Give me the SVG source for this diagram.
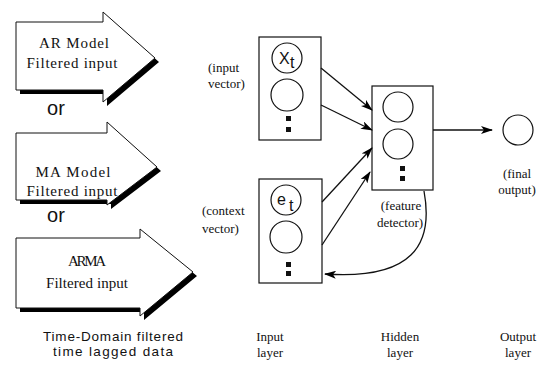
<svg xmlns="http://www.w3.org/2000/svg" width="551" height="374" viewBox="0 0 551 374">
  <defs>
    <marker id="head" viewBox="0 0 12 8" refX="11" refY="4" markerWidth="12" markerHeight="8" markerUnits="userSpaceOnUse" orient="auto">
      <path d="M0,0 L12,4 L0,8 L3,4 Z" fill="#000"/>
    </marker>
  </defs>
  <style>
    .bg { fill: #fff; }
    .arrow { fill: #fff; stroke: #111; stroke-width: 1; }
    .shadow { fill: #000; }
    .box { fill: #fff; stroke: #111; stroke-width: 1.2; }
    .unit { fill: #fff; stroke: #111; stroke-width: 1.2; }
    .dot { fill: #111; }
    .link { fill: none; stroke: #111; stroke-width: 1.3; marker-end: url(#head); }
    .inlabel { font-family: "Liberation Serif", serif; font-size: 15px; fill: #111; text-anchor: middle; }
    .or { font-family: "Liberation Sans", sans-serif; font-size: 20px; fill: #111; text-anchor: middle; }
    .cap { font-family: "Liberation Sans", sans-serif; font-size: 13.5px; fill: #111; text-anchor: middle; }
    .lbl { font-family: "Liberation Serif", serif; font-size: 13px; fill: #111; }
    .mid { text-anchor: middle; }
    .sym { font-family: "Liberation Sans", sans-serif; font-size: 16px; fill: #111; }
  </style>
  <rect class="bg" width="551" height="374"/>

  <!-- filtered input arrows -->
  <g id="ar-arrow">
    <path class="shadow" d="M20,26 H107 V16 L159,62 L107,106 V94 H20 Z"/>
    <path class="arrow" d="M16,22 H103 V12 L155,58 L103,102 V90 H16 Z"/>
    <text class="inlabel" x="74" y="48" textLength="70" lengthAdjust="spacing">AR Model</text>
    <text class="inlabel" x="72" y="68" textLength="91" lengthAdjust="spacing">Filtered input</text>
  </g>
  <text class="or" x="56" y="115">or</text>
  <g id="ma-arrow">
    <path class="shadow" d="M20,137 H111 V126 L161,171 L111,209 V204 H20 Z"/>
    <path class="arrow" d="M16,133 H107 V122 L157,167 L107,205 V200 H16 Z"/>
    <text class="inlabel" x="73" y="177" textLength="75" lengthAdjust="spacing">MA Model</text>
    <text class="inlabel" x="72" y="196" textLength="91" lengthAdjust="spacing">Filtered input</text>
  </g>
  <text class="or" x="56" y="222">or</text>
  <g id="arma-arrow">
    <path class="shadow" d="M20,242 H144 V233 L197,276 L144,320 V312 H20 Z"/>
    <path class="arrow" d="M16,238 H140 V229 L193,272 L140,316 V308 H16 Z"/>
    <text class="inlabel" x="87" y="266" textLength="38" lengthAdjust="spacing">ARMA</text>
    <text class="inlabel" x="87" y="288" textLength="82" lengthAdjust="spacing">Filtered input</text>
  </g>
  <text class="cap" x="113" y="341" textLength="140" lengthAdjust="spacing">Time-Domain filtered</text>
  <text class="cap" x="113" y="356" textLength="120" lengthAdjust="spacing">time lagged data</text>

  <!-- input layer -->
  <g id="input-vector">
    <rect class="box" x="259" y="37" width="62" height="103"/>
    <circle class="unit" cx="287" cy="58" r="15"/>
    <text class="sym" x="279" y="64">X</text>
    <text class="sym" x="290" y="68" font-size="10">t</text>
    <circle class="unit" cx="287" cy="95" r="16"/>
    <rect class="dot" x="286" y="116" width="5" height="5"/>
    <rect class="dot" x="286" y="127" width="5" height="5"/>
    <text class="lbl" x="208" y="72">(input</text>
    <text class="lbl" x="208" y="88">vector)</text>
  </g>
  <g id="context-vector">
    <rect class="box" x="259" y="179" width="63" height="104"/>
    <circle class="unit" cx="286" cy="200" r="15"/>
    <text class="sym" x="277" y="205" font-size="19">e</text>
    <text class="sym" x="289" y="211" font-size="10">t</text>
    <circle class="unit" cx="286" cy="237" r="16"/>
    <rect class="dot" x="286" y="262" width="5" height="5"/>
    <rect class="dot" x="286" y="271" width="5" height="5"/>
    <text class="lbl" x="202" y="215">(context</text>
    <text class="lbl" x="202" y="233">vector)</text>
  </g>

  <!-- hidden layer -->
  <g id="feature-detector">
    <rect class="box" x="372" y="86" width="61" height="104"/>
    <circle class="unit" cx="398" cy="107" r="15"/>
    <circle class="unit" cx="398" cy="144" r="15"/>
    <rect class="dot" x="400" y="166" width="5" height="5"/>
    <rect class="dot" x="400" y="176" width="5" height="5"/>
    <text class="lbl mid" x="401" y="210">(feature</text>
    <text class="lbl mid" x="400" y="227">detector)</text>
  </g>

  <!-- output layer -->
  <g id="final-output">
    <circle class="unit" cx="518" cy="130" r="15"/>
    <text class="lbl mid" x="517" y="178">(final</text>
    <text class="lbl mid" x="517" y="194">output)</text>
  </g>

  <!-- layer captions -->
  <text class="lbl mid" x="270" y="341">Input</text>
  <text class="lbl mid" x="270" y="357">layer</text>
  <text class="lbl mid" x="400" y="341">Hidden</text>
  <text class="lbl mid" x="400" y="357">layer</text>
  <text class="lbl mid" x="518" y="341">Output</text>
  <text class="lbl mid" x="518" y="357">layer</text>

  <!-- connections -->
  <g id="connectors">
    <line class="link" x1="321" y1="68" x2="372" y2="110"/>
    <line class="link" x1="321" y1="105" x2="372" y2="130"/>
    <line class="link" x1="322" y1="202" x2="372" y2="148"/>
    <line class="link" x1="322" y1="245" x2="370" y2="172"/>
    <line class="link" x1="433" y1="130" x2="492" y2="130"/>
    <path class="link" d="M424,191 C434,245 412,280 325,274"/>
  </g>
</svg>
